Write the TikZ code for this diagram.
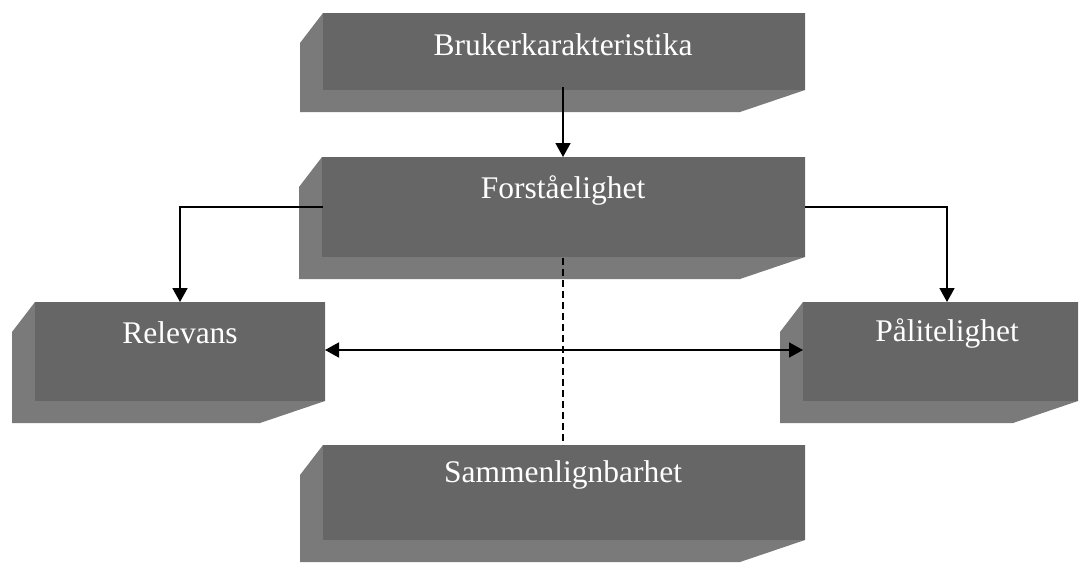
\documentclass[tikz,border=0pt]{standalone}
\usepackage{fontspec}
\setmainfont{Liberation Serif}
\usetikzlibrary{arrows.meta,calc}
\def\bevelbox(#1,#2,#3,#4){\fill[black!52] (#1+23,#2) -- (#3,#2) -- (#3,#4-22) -- (#3-65,#4) -- (#1,#4) -- (#1,#2+30) -- cycle;
	\fill[black!60] (#1+23,#2) rectangle (#3,#4-22);}
\tikzset{
	boxarea/.style={inner sep=0pt, outer sep=0pt},
	boxtext/.style={text=white, inner sep=0pt, font=\fontsize{31.5}{36}\selectfont},
	arr/.style={line width=1.7pt, -{Triangle[length=14pt,width=15pt]}},
	dblarr/.style={line width=1.7pt, {Triangle[length=14pt,width=15pt]}-{Triangle[length=14pt,width=15pt]}}
}

\begin{document}
\begin{tikzpicture}[x=1pt, y=-1pt]
			%%%%% START %%%%%
			\useasboundingbox (0,0) rectangle (1081,562);
			
			\bevelbox(300,13,805,112)
			\bevelbox(299,157,805,279)
			\bevelbox(12,302,325,423)
			\bevelbox(780,302,1078,423)
			\bevelbox(300,445,805,562)
			
			\node[boxarea, minimum width=505pt, minimum height=99pt] (bruker) at (552.5,62.5) {};
			\node[boxarea, minimum width=506pt, minimum height=122pt] (forst) at (552,218) {};
			\node[boxarea, minimum width=313pt, minimum height=121pt] (relev) at (168.5,362.5) {};
			\node[boxarea, minimum width=298pt, minimum height=121pt] (palit) at (929,362.5) {};
			\node[boxarea, minimum width=505pt, minimum height=117pt] (samm) at (552.5,503.5) {};
			
			\node[boxtext] (bruker-txt) at (563,45) {Brukerkarakteristika};
			\node[boxtext] (forst-txt) at (563,190) {Forståelighet};
			\node[boxtext] (relev-txt) at (180,333) {Relevans};
			\node[boxtext] (palit-txt) at (947,333) {Pålitelighet};
			\node[boxtext] (samm-txt) at (563,475) {Sammenlignbarhet};
			
			\coordinate (bruker-out) at (563,87);
			\coordinate (forst-l) at (323,207);
			\coordinate (forst-r) at (forst.east |- forst-l);
			\coordinate (forst-b) at (563,258);
			\coordinate (relev-r) at (relev.east |- 0,350);
			\coordinate (palit-l) at (803,350);
			
			\draw[arr] (bruker-out) -- (bruker-out |- forst.north);
			\draw[arr] (forst-l) -| (relev-txt |- relev.north);
			\draw[arr] (forst-r) -| (palit-txt |- palit.north);
			\draw[dblarr] (relev-r) -- (palit-l);
			\draw[line width=1.7pt, dash pattern=on 7pt off 4pt] (forst-b) -- (forst-b |- samm.north);
			
			%%%%% END %%%%%
		\end{tikzpicture}
\end{document}
